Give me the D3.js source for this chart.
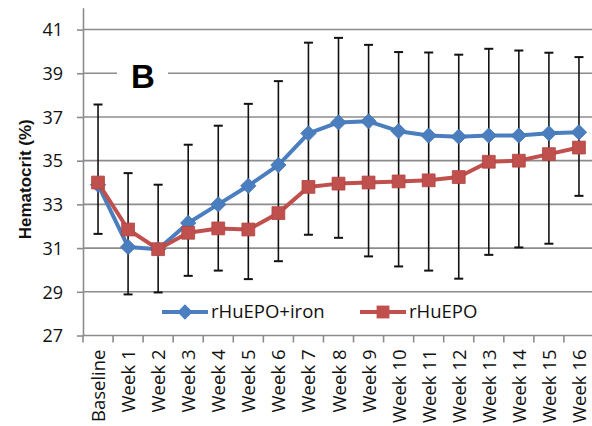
<!DOCTYPE html>
<html>
<head>
<meta charset="utf-8">
<script src="https://cdn.jsdelivr.net/npm/d3@7"></script>
<style>
  body { margin: 0; background: #fff; }
  svg { display: block; font-family: "Open Sans", "Liberation Sans", sans-serif; }
</style>
</head>
<body>
<div id="chart"></div>
<script>
// chart data
var categories = ["Baseline", "Week 1", "Week 2", "Week 3", "Week 4", "Week 5", "Week 6", "Week 7", "Week 8",
  "Week 9", "Week 10", "Week 11", "Week 12", "Week 13", "Week 14", "Week 15", "Week 16"];
var ironValues = [33.9, 31.05, 30.95, 32.15, 33.0, 33.85, 34.8, 36.25, 36.75, 36.8, 36.35, 36.15, 36.1, 36.15, 36.15, 36.25, 36.3];
var epoValues = [34.0, 31.85, 30.95, 31.7, 31.9, 31.85, 32.6, 33.8, 33.95, 34.0, 34.05, 34.1, 34.25, 34.95, 35.0, 35.3, 35.6];
var errHigh = [37.57, 34.43, 33.9, 35.73, 36.6, 37.6, 38.64, 40.4, 40.62, 40.3, 39.97, 39.95, 39.85, 40.12, 40.04, 39.94, 39.74];
var errLow = [31.65, 28.88, 28.97, 29.73, 29.97, 29.58, 30.4, 31.61, 31.47, 30.62, 30.16, 29.97, 29.6, 30.69, 31.03, 31.2, 33.39];
var yTicks = [27, 29, 31, 33, 35, 37, 39, 41];
var seriesNames = ["rHuEPO+iron", "rHuEPO"];

var svgWidth = 592;
var svgHeight = 426;

var blue = "#4a7ebf";
var red = "#c0504d";

var svg = d3.select("#chart")
  .append("svg")
  .attr("width", svgWidth)
  .attr("height", svgHeight);

var x = d3.scaleBand()
  .domain(categories)
  .range([83, 594]);

var y = d3.scaleLinear()
  .domain([27, 42])
  .range([335.5, 7.7]);

// horizontal gridlines
svg.append("g")
  .selectAll("line")
  .data(yTicks.slice(1))
  .enter()
  .append("line")
  .attr("x1", 83)
  .attr("x2", svgWidth)
  .attr("y1", d => y(d))
  .attr("y2", d => y(d))
  .attr("stroke", "#8c8c8c")
  .attr("stroke-width", 1.6);

// y axis
var yAxis = svg.append("g")
  .attr("transform", "translate(83,0)")
  .call(d3.axisLeft(y).tickValues(yTicks).tickSize(6).tickSizeOuter(0).tickPadding(14));
yAxis.select(".domain").attr("stroke", "#8c8c8c").attr("stroke-width", 1.6);
yAxis.selectAll(".tick line").attr("stroke", "#8c8c8c").attr("stroke-width", 1.6);
yAxis.selectAll("text")
  .attr("font-size", 18)
  .attr("font-family", "Open Sans, sans-serif")
  .attr("fill", "#111")
  .attr("dy", "0.35em");

// x axis line and boundary ticks
svg.append("line")
  .attr("x1", 83).attr("x2", svgWidth)
  .attr("y1", y(27)).attr("y2", y(27))
  .attr("stroke", "#8c8c8c").attr("stroke-width", 1.6);
svg.append("g")
  .selectAll("line")
  .data(categories)
  .enter()
  .append("line")
  .attr("x1", d => x(d))
  .attr("x2", d => x(d))
  .attr("y1", y(27))
  .attr("y2", y(27) + 7)
  .attr("stroke", "#8c8c8c")
  .attr("stroke-width", 1.6);

// x labels
svg.append("g")
  .selectAll("text")
  .data(categories)
  .enter()
  .append("text")
  .attr("transform", d => `translate(${x(d) + x.bandwidth() / 2 + 7}, ${y(27) + 14}) rotate(-90)`)
  .attr("text-anchor", "end")
  .attr("font-size", 18.5)
  .attr("fill", "#111")
  .text(d => d);

// y axis title
svg.append("text")
  .attr("transform", `translate(31, ${y(34.15)}) rotate(-90)`)
  .attr("text-anchor", "middle")
  .attr("font-size", 17)
  .attr("font-weight", "bold")
  .attr("font-family", "Liberation Sans, Arial, sans-serif")
  .attr("fill", "#111")
  .text("Hematocrit  (%)");

// panel letter with white backing
svg.append("rect")
  .attr("x", 117).attr("y", 58).attr("width", 51).attr("height", 34)
  .attr("fill", "#fff");
svg.append("text")
  .attr("x", 131)
  .attr("y", 88)
  .attr("font-size", 33)
  .attr("font-weight", "bold")
  .attr("font-family", "Liberation Sans, Arial, sans-serif")
  .attr("fill", "#000")
  .text("B");

// error bars
var center = d => x(d) + x.bandwidth() / 2;
var bars = svg.append("g");
bars.selectAll(".stem")
  .data(categories)
  .enter()
  .append("line")
  .attr("x1", center).attr("x2", center)
  .attr("y1", (d, i) => y(errHigh[i]))
  .attr("y2", (d, i) => y(errLow[i]))
  .attr("stroke", "#111").attr("stroke-width", 1.6);
bars.selectAll(".capTop")
  .data(categories)
  .enter()
  .append("line")
  .attr("x1", d => center(d) - 4.5).attr("x2", d => center(d) + 4.5)
  .attr("y1", (d, i) => y(errHigh[i]))
  .attr("y2", (d, i) => y(errHigh[i]))
  .attr("stroke", "#111").attr("stroke-width", 2);
bars.selectAll(".capBottom")
  .data(categories)
  .enter()
  .append("line")
  .attr("x1", d => center(d) - 4.5).attr("x2", d => center(d) + 4.5)
  .attr("y1", (d, i) => y(errLow[i]))
  .attr("y2", (d, i) => y(errLow[i]))
  .attr("stroke", "#111").attr("stroke-width", 2);

var line = d3.line()
  .x((d, i) => center(categories[i]))
  .y(d => y(d));

var diamond = d3.symbol().type(d3.symbolDiamond2).size(150);
var square = d3.symbol().type(d3.symbolSquare).size(165);

// rHuEPO+iron series
svg.append("path")
  .datum(ironValues)
  .attr("d", line)
  .attr("fill", "none")
  .attr("stroke", blue)
  .attr("stroke-width", 4)
  .attr("stroke-linejoin", "round");
svg.append("g")
  .selectAll("path")
  .data(ironValues)
  .enter()
  .append("path")
  .attr("d", diamond)
  .attr("transform", (d, i) => `translate(${center(categories[i])}, ${y(d)})`)
  .attr("fill", blue)
  .attr("stroke", "#4173b0")
  .attr("stroke-width", 0.8);

// rHuEPO series
svg.append("path")
  .datum(epoValues)
  .attr("d", line)
  .attr("fill", "none")
  .attr("stroke", red)
  .attr("stroke-width", 4)
  .attr("stroke-linejoin", "round");
svg.append("g")
  .selectAll("path")
  .data(epoValues)
  .enter()
  .append("path")
  .attr("d", square)
  .attr("transform", (d, i) => `translate(${center(categories[i])}, ${y(d)})`)
  .attr("fill", red)
  .attr("stroke", "#b24440")
  .attr("stroke-width", 0.8);

// legend
var legendY = 312;
var legend = svg.append("g");
var legendItems = [
  { name: seriesNames[0], color: blue, x: 162, symbol: diamond },
  { name: seriesNames[1], color: red, x: 360, symbol: square }
];
legendItems.forEach(function(item) {
  legend.append("line")
    .attr("x1", item.x).attr("x2", item.x + 46)
    .attr("y1", legendY).attr("y2", legendY)
    .attr("stroke", item.color).attr("stroke-width", 4);
  legend.append("path")
    .attr("d", item.symbol)
    .attr("transform", `translate(${item.x + 23}, ${legendY})`)
    .attr("fill", item.color);
  legend.append("text")
    .attr("x", item.x + 49)
    .attr("y", legendY)
    .attr("dy", "0.35em")
    .attr("font-size", 18.5)
    .attr("fill", "#111")
    .text(item.name);
});
</script>
</body>
</html>
